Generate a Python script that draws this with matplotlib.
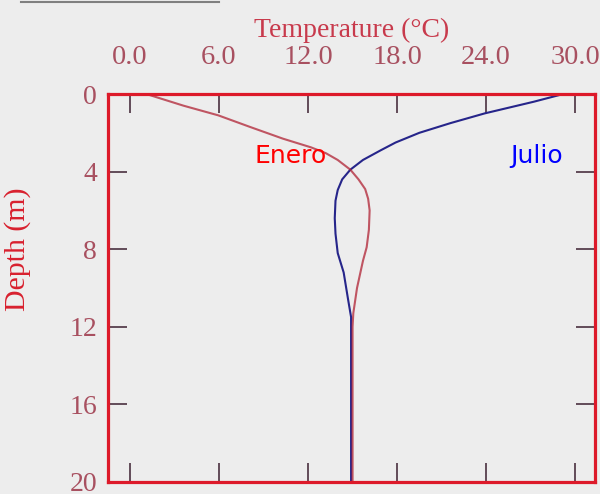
import numpy as np
import matplotlib
matplotlib.use('Agg')
import matplotlib.pyplot as plt
from matplotlib.lines import Line2D

# Temperature profiles
depth_enero = [0.0, 0.6, 1.1, 1.7, 2.3, 2.75, 3.05, 3.4, 3.9, 4.4, 4.9, 5.4, 6.0, 7.0,
               7.9, 8.6, 10.0, 11.3, 12.0, 14.0, 16.0, 18.0, 20.0]
temp_enero = [1.1, 3.6, 5.95, 8.1, 10.3, 12.2, 13.2, 14.0, 14.85, 15.4, 15.85, 16.05, 16.15, 16.1,
              15.95, 15.7, 15.3, 15.05, 15.0, 15.0, 15.0, 15.0, 15.0]

depth_julio = [0.0, 0.4, 1.0, 1.5, 2.0, 2.5, 2.9, 3.4, 3.9, 4.4, 4.95, 5.5, 6.4, 7.2,
               8.2, 9.2, 10.6, 11.5, 14.0, 16.0, 18.0, 20.0]
temp_julio = [29.2, 27.2, 23.9, 21.6, 19.5, 17.9, 16.9, 15.7, 14.85, 14.3, 14.0, 13.85, 13.8, 13.85,
              14.0, 14.4, 14.7, 14.9, 14.9, 14.9, 14.9, 14.9]

temp_ticks = [0, 6, 12, 18, 24, 30]
depth_ticks = [0, 4, 8, 12, 16, 20]

bg = '#ededed'
frame_red = '#dd1a2a'
tick_col = '#a85060'
serif = ['Liberation Serif', 'DejaVu Serif']

fig = plt.figure(figsize=(6.0, 4.94), dpi=100, facecolor=bg)
ax = fig.add_axes([0.18, 0.0243, 0.812, 0.7854], facecolor=bg)

ax.plot(temp_julio, depth_julio, color='#26258a', linewidth=1.5)
ax.plot(temp_enero, depth_enero, color='#b02234', linewidth=1.5, alpha=0.75)

ax.set_xlim(-1.48, 31.35)
ax.set_ylim(20, 0)

ax.set_xticks(temp_ticks)
ax.set_xticklabels([f'{t:.1f}' for t in temp_ticks])
ax.set_yticks(depth_ticks)
ax.set_yticklabels([str(d) for d in depth_ticks])

ax.xaxis.tick_top()
ax.tick_params(axis='x', which='both', top=True, bottom=True, labeltop=True, labelbottom=False,
               direction='in', length=14, width=1.2, color='#4a3040', pad=17)
ax.tick_params(axis='y', which='both', left=True, right=True, direction='in',
               length=14, width=1.2, color='#4a3040', pad=8)
for lab in ax.get_xticklabels():
    lab.set_family(serif)
    lab.set_fontsize(20.5)
    lab.set_color(tick_col)
for lab in ax.get_yticklabels():
    lab.set_family(serif)
    lab.set_fontsize(20)
    lab.set_color(tick_col)

for sp in ax.spines.values():
    sp.set_color(frame_red)
    sp.set_linewidth(2.3)

ax.xaxis.set_label_position('top')
ax.set_xlabel('Temperature (°C)', family=serif, fontsize=20, color='#c83a4c', labelpad=6)
ax.set_ylabel('Depth (m)', family=serif, fontsize=21.5, color='#d8202e')
ax.yaxis.set_label_coords(-0.158, 0.6)

ax.text(8.4, 3.56, 'Enero', color='#ff0000', fontsize=18, va='baseline', ha='left')
ax.text(25.6, 3.56, 'Julio', color='#0000ff', fontsize=18, va='baseline', ha='left')

# scan remnant at the top-left edge
fig.add_artist(Line2D([0.035, 0.365], [0.995, 0.995], color='#808080', linewidth=1.5))

fig.savefig('out.png', dpi=100, facecolor=bg)
